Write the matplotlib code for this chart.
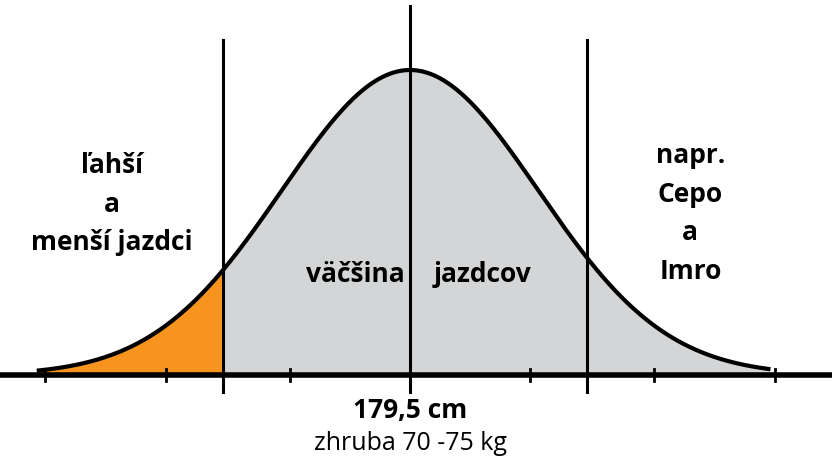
import numpy as np
import matplotlib.pyplot as plt

# bell curve in units of standard deviation, peak height normalised to 1
bounds = [-1.46, 0.0, 1.38]
ticks = [-2.85, -1.91, -0.94, 0.94, 1.91, 2.85]
left_label = "ľahší\na\nmenší jazdci"
right_label = "napr.\nCepo\na\nImro"
mid_labels = ["väčšina", "jazdcov"]
center_label = "179,5 cm"
weight_label = "zhruba 70 -75 kg"

plt.rcParams['font.family'] = ['Open Sans', 'DejaVu Sans']

fig = plt.figure(figsize=(8.32, 4.70), dpi=100)
ax = fig.add_axes([0, 0, 1, 1])
ax.set_xlim(-410 / 128, 422 / 128)
ax.set_ylim(-95 / 305, 375 / 305)
ax.axis('off')

x = np.linspace(-2.9, 2.8, 600)
y = np.exp(-x ** 2 / 2)
ax.fill_between(x, 0, y, color='#d3d5d6', zorder=1)
xo = x[x <= bounds[0]]
ax.fill_between(xo, 0, np.exp(-xo ** 2 / 2), color='#f7941d', zorder=2)
ax.plot(x, y, color='black', lw=3, zorder=4)

ax.axhline(0, color='black', lw=4, zorder=5)
for t in ticks:
    ax.plot([t, t], [-0.02, 0.02], color='black', lw=2, zorder=5)
ax.plot([bounds[0]] * 2, [-0.055, 1.1], color='black', lw=2.2, zorder=5)
ax.plot([bounds[1]] * 2, [-0.055, 1.21], color='black', lw=2.2, zorder=5)
ax.plot([bounds[2]] * 2, [-0.055, 1.1], color='black', lw=2.2, zorder=5)

kw = dict(fontsize=19, fontweight='bold', ha='center', va='center', linespacing=1.55)
ax.text(-2.33, 0.56, left_label, **kw)
ax.text(2.19, 0.53, right_label, **kw)
ax.text(-0.43, 0.33, mid_labels[0], **kw)
ax.text(0.57, 0.33, mid_labels[1], **kw)
ax.text(0, -0.115, center_label, **kw)
ax.text(0, -0.225, weight_label, fontsize=18, ha='center', va='center')

fig.savefig("out.png", dpi=100)
